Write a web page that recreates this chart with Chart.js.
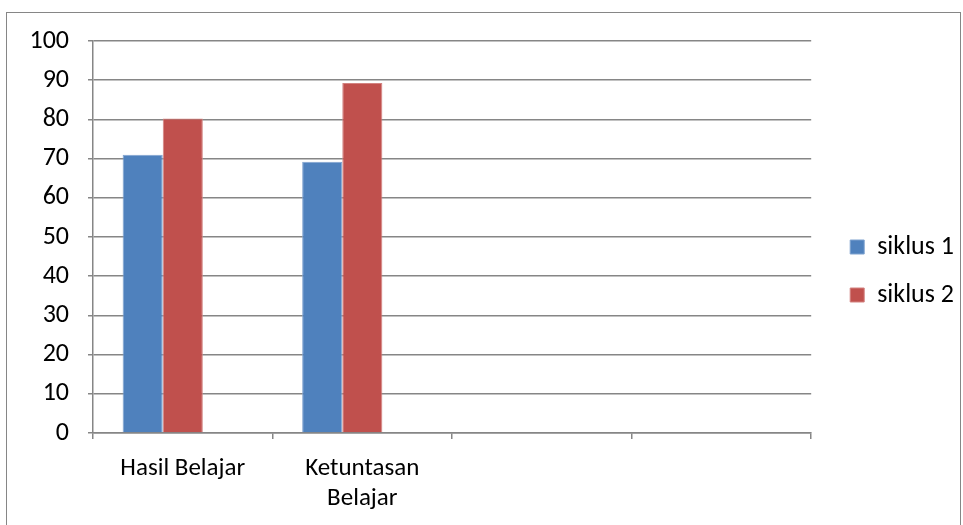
<!DOCTYPE html>
<html>
<head>
<meta charset="utf-8">
<script src="https://cdn.jsdelivr.net/npm/chart.js@4"></script>
<style>
  html, body { margin: 0; padding: 0; background: #fff; overflow: hidden; }
  #wrap { position: relative; width: 963px; height: 525px; }
  #frame { position: absolute; left: 6px; top: 12px; width: 955px; height: 520px; border: 1.5px solid #868686; box-sizing: border-box; }
  canvas { position: absolute; left: 0; top: 0; }
</style>
</head>
<body>
<div id="wrap">
  <div id="frame"></div>
  <canvas id="chart" width="963" height="525"></canvas>
</div>
<script>
const categories = ["Hasil Belajar", ["Ketuntasan", "Belajar"], "", ""];
const siklus1 = [71, 69.2, null, null];
const siklus2 = [80.2, 89.3, null, null];
const siklus3 = [null, null, null, null]; // empty third series in the source sheet
const yTicks = [0, 10, 20, 30, 40, 50, 60, 70, 80, 90, 100];

const gridGray = "#868686";
const family = "Carlito, Lato, 'Open Sans', sans-serif";

// nudge the legend to where Excel put it
const legendShift = {
  id: "legendShift",
  afterLayout(chart) {
    const lg = chart.legend;
    lg.left += 17; lg.right += 17;
    lg.top -= 12; lg.bottom -= 12;
  }
};

const ctx = document.getElementById("chart").getContext("2d");
new Chart(ctx, {
  type: "bar",
  data: {
    labels: categories,
    datasets: [
      { label: "siklus 1", data: siklus1, backgroundColor: "#4F81BD", borderColor: "#7FA2CF", borderWidth: 1 },
      { label: "siklus 2", data: siklus2, backgroundColor: "#C0504D", borderColor: "#D38280", borderWidth: 1 },
      { label: "", data: siklus3, backgroundColor: "#9BBB59" }
    ]
  },
  options: {
    responsive: false,
    animation: false,
    layout: { padding: { left: 0, top: 41, right: 16, bottom: 0 } },
    datasets: { bar: { categoryPercentage: 0.67, barPercentage: 1 } },
    scales: {
      x: {
        grid: { display: true, drawOnChartArea: false, color: gridGray, lineWidth: 1.5, tickLength: 6, offset: true },
        border: { color: gridGray, width: 1.5 },
        ticks: { color: "#000", font: { family: family, size: 25, lineHeight: 1.2 }, padding: 15, maxRotation: 0, autoSkip: false },
        afterFit: (scale) => { scale.height = 92; }
      },
      y: {
        min: 0,
        max: 100,
        afterBuildTicks: (scale) => { scale.ticks = yTicks.map(v => ({ value: v })); },
        grid: { color: gridGray, lineWidth: 1.5, tickLength: 5 },
        border: { color: gridGray, width: 1.5 },
        ticks: { color: "#000", font: { family: family, size: 26 }, padding: 19 },
        afterFit: (scale) => { scale.width = 93; }
      }
    },
    plugins: {
      legend: {
        position: "right",
        labels: {
          color: "#000",
          font: { family: family, size: 26 },
          boxWidth: 14,
          boxHeight: 14,
          padding: 22,
          filter: (item) => item.text !== ""
        }
      },
      tooltip: { enabled: false }
    }
  },
  plugins: [legendShift]
});
</script>
</body>
</html>
